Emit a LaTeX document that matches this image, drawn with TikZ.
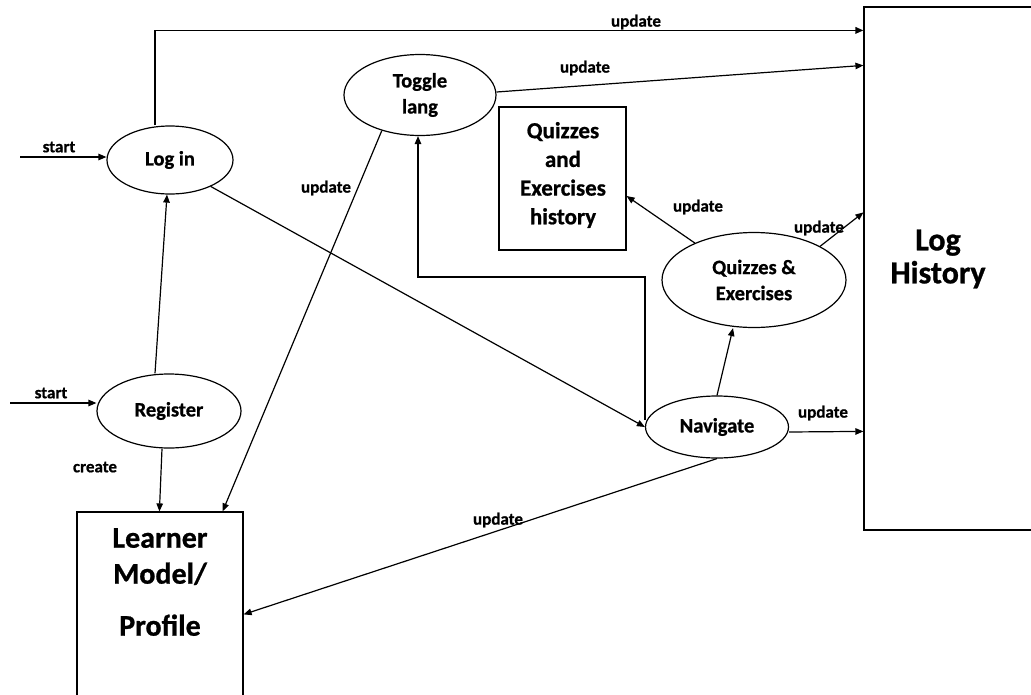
\documentclass[tikz,border=0pt]{standalone}
\usepackage{fontspec}
\setmainfont{Carlito}[BoldFeatures={FakeBold=0.8}]
\usetikzlibrary{shapes.geometric,arrows.meta}
\begin{document}
\begin{tikzpicture}[x=1pt,y=-1pt,
  proc/.style={draw,ellipse,inner sep=0pt,line width=1.2pt,align=center,font=\fontsize{20.5}{26}\selectfont\bfseries},
  store/.style={draw,rectangle,inner sep=0pt,line width=1.2pt},
  flow/.style={draw,line width=1.2pt,-{Triangle[length=8pt,width=6.5pt]}},
  lbl/.style={font=\fontsize{17}{18}\selectfont\bfseries,inner sep=0pt},
]
\useasboundingbox (0,0) rectangle (1031,694);
\clip (0,0) rectangle (1031,694);
\fill[white] (0,0) rectangle (1031,694);

% processes
\node[proc,minimum width=126,minimum height=68] (login) at (170,160) {Log in};
\node[proc,minimum width=152,minimum height=81] (toggle) at (420,95) {Toggle\\lang};
\node[proc,minimum width=144,minimum height=74] (register) at (169,411) {Register};
\node[proc,minimum width=184,minimum height=95] (quizex) at (754,280) {Quizzes \&\\Exercises};
\node[proc,minimum width=143,minimum height=62] (navigate) at (717,427) {Navigate};

% stores
\node[store,minimum width=127,minimum height=143] (qbox) at (562.5,178.5) {};
\node[font=\fontsize{23}{28.7}\selectfont\bfseries,align=center,inner sep=0pt] (qboxT) at (563,175) {Quizzes\\and\\Exercises\\history};
\node[store,minimum width=166,minimum height=230] (learner) at (160,627) {};
\node[font=\fontsize{30}{36}\selectfont\bfseries,align=center,anchor=north,inner sep=0pt] (learnerT) at (160,528) {Learner\\Model/\\[16pt]Profile};
\node[store,minimum width=200,minimum height=523] (logh) at (964,268.5) {};
\node[font=\fontsize{32}{33}\selectfont\bfseries,align=center,inner sep=0pt] (loghT) at (938,259) {Log\\History};

% start arrows
\coordinate (s1) at (20,157);
\coordinate (s2) at (10,403);
\draw[flow] (s1) -- (s1 -| login.west);
\draw[flow] (s2) -- (s2 -| register.west);
\node[lbl] (lstart1) at (59,147) {start};
\node[lbl] (lstart2) at (51,393) {start};

% flows
\draw[flow,line width=1.8pt] ([xshift=-15]login.north) |- ([yshift=-24]logh.north west);
\node[lbl] (lup1) at (636,22) {update};

\draw[flow] (toggle.east) ++(0,-3) -- ([yshift=-59]logh.north west);
\node[lbl] (lup2) at (585,68) {update};

\draw[flow] (toggle.223) -- ([xshift=-21]learner.north east);
\node[lbl] (lup3) at (326,188) {update};

\draw[flow] ([xshift=-14]register.north) -- ([xshift=-3]login.south);
\draw[flow] ([xshift=-7]register.south) -- ([xshift=83]learner.north west);
\node[lbl] (lcreate) at (95,467) {create};

\draw[flow] (login.-33) -- (navigate.west);

\coordinate (turn) at (530,277);
\draw[flow] (navigate.west) ++(0,-7) |- (turn) -| ([xshift=-2]toggle.south);

\draw[flow] (navigate.north) -- ([xshift=-21]quizex.south);

\draw[flow] ([yshift=-5]navigate.east) -- ([yshift=-425]logh.north west);
\node[lbl] (lup4) at (823,413) {update};

\draw[flow] (navigate.south) -- ([yshift=-103]learner.north east);
\node[lbl] (lup5) at (498,520) {update};

\draw[flow] (quizex.148) -- ([yshift=-17.5]qbox.east);
\node[lbl] (lup6) at (698,207) {update};

\draw[flow] (quizex.27) -- ([yshift=-206]logh.north west);
\node[lbl] (lup7) at (819,228) {update};
\end{tikzpicture}
\end{document}
